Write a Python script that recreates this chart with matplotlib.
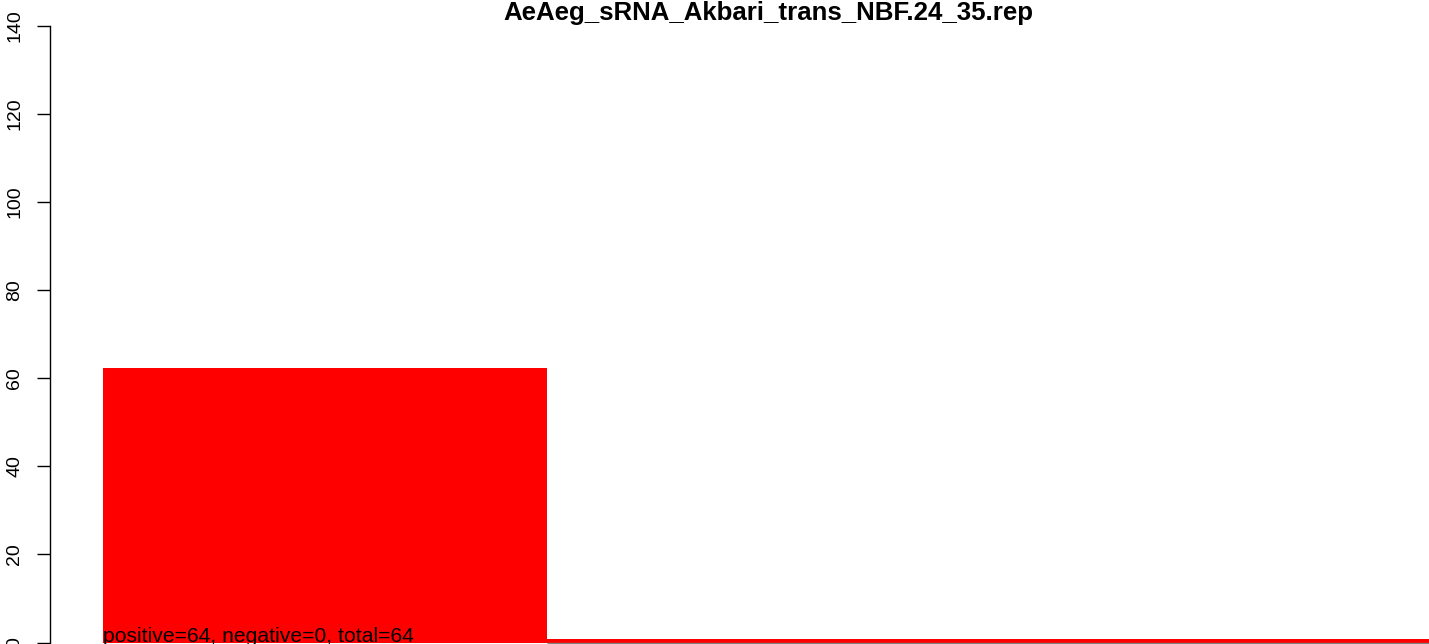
import numpy as np
import matplotlib
matplotlib.use('Agg')
import matplotlib.pyplot as plt

plt.rcParams['font.family'] = ['Liberation Sans', 'DejaVu Sans']

# данные
title = 'AeAeg_sRNA_Akbari_trans_NBF.24_35.rep'
bar_values = [62.4, 0.73]
bar_widths = [1.0, 2.0]
bar_lefts = [0.0, 1.0]
positive, negative = 64, 0
yticks = [0, 20, 40, 60, 80, 100, 120, 140]

W, H = 1429, 644
fig = plt.figure(figsize=(W / 100, H / 100), dpi=100)

# область графика как в R (правый край обрезан картинкой)
left_px, right_px, top_px, bottom_px = 50, 1486, 26, 642.5
ax = fig.add_axes([left_px / W, 1 - bottom_px / H,
                   (right_px - left_px) / W, (bottom_px - top_px) / H])

ax.bar(bar_lefts, bar_values, width=bar_widths, align='edge',
       color='#ff0000', edgecolor='none', clip_on=False)
ax.hlines(0, bar_lefts[1], bar_lefts[1] + bar_widths[1], color='#808080',
          linewidth=1, clip_on=False)

ax.set_xlim(-53.3 / 443.7, (right_px - 103.3) / 443.7)
ax.set_ylim(0, 140)
ax.set_yticks(yticks)
ax.set_yticklabels([str(t) for t in yticks], rotation=90, va='center')
ax.tick_params(axis='y', length=9.4, width=1, pad=10, labelsize=14)
ax.set_xticks([])
for s in ['top', 'right', 'bottom']:
    ax.spines[s].set_visible(False)
ax.spines['left'].set_linewidth(1)
ax.spines['left'].set_bounds(0, 140)

ax.text(bar_lefts[0], 0,
        f'positive={positive}, negative={negative}, total={positive + negative}',
        fontsize=15.2, ha='left', va='baseline', clip_on=False)

fig.text((left_px + right_px) / 2 / W, 1 - 20 / H, title,
         fontsize=18.6, fontweight='bold', ha='center', va='baseline')

fig.savefig('out.png', dpi=100)
